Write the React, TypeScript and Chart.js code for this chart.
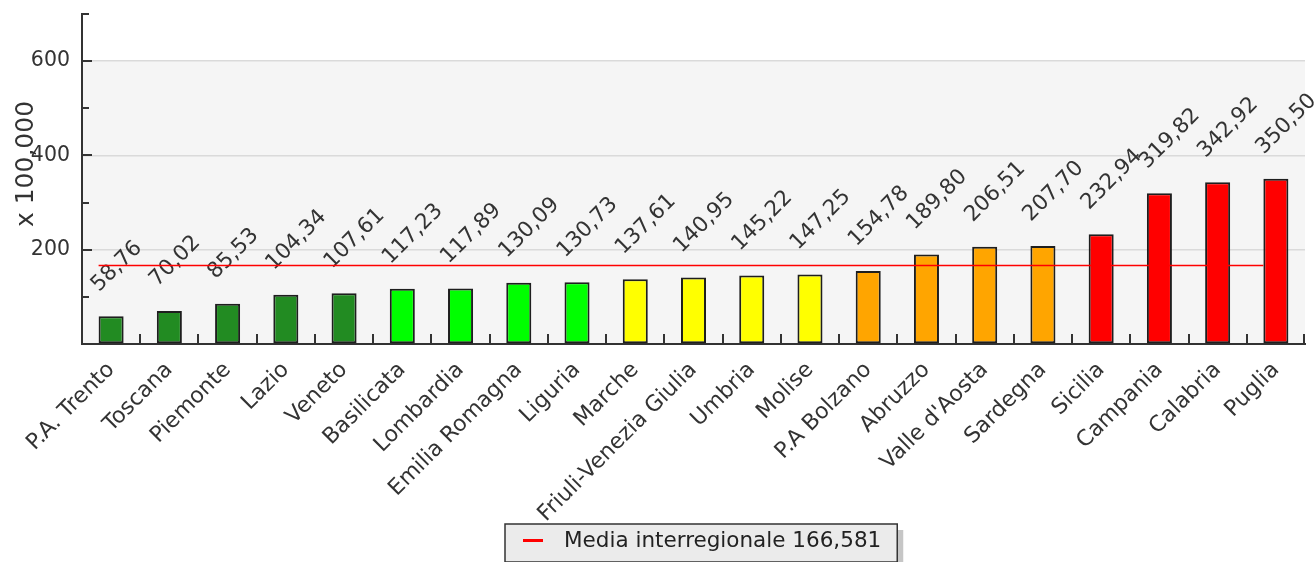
import React, { useEffect, useRef } from 'react';
import { Chart, registerables } from 'chart.js';

Chart.register(...registerables);

const CATEGORIES = [
  'P.A. Trento', 'Toscana', 'Piemonte', 'Lazio', 'Veneto',
  'Basilicata', 'Lombardia', 'Emilia Romagna', 'Liguria',
  'Marche', 'Friuli-Venezia Giulia', 'Umbria', 'Molise',
  'P.A Bolzano', 'Abruzzo', "Valle d'Aosta", 'Sardegna',
  'Sicilia', 'Campania', 'Calabria', 'Puglia',
];

const VALUES = [
  58.76, 70.02, 85.53, 104.34, 107.61,
  117.23, 117.89, 130.09, 130.73,
  137.61, 140.95, 145.22, 147.25,
  154.78, 189.80, 206.51, 207.70,
  232.94, 319.82, 342.92, 350.50,
];

const BAR_COLORS = [
  '#228b22', '#228b22', '#228b22', '#228b22', '#228b22',
  '#00ff00', '#00ff00', '#00ff00', '#00ff00',
  '#ffff00', '#ffff00', '#ffff00', '#ffff00',
  '#ffa500', '#ffa500', '#ffa500', '#ffa500',
  '#ff0000', '#ff0000', '#ff0000', '#ff0000',
];

const MEAN = 166.581;
const MEAN_LABEL = 'Media interregionale ' + String(MEAN).replace('.', ',');
const Y_TITLE = 'x 100,000';
const Y_MAX = 700;
const Y_STEP = 100;
const Y_LABELED = [200, 400, 600];
const BG_TOP_VALUE = 600;

const FONT_FAMILY = 'DejaVu Sans';
const TEXT_COLOR = '#333333';

const fmt = (v: number) => v.toFixed(2).replace('.', ',');

const decorPlugin = {
  id: 'decor',
  beforeDraw(chart: any) {
    const { ctx, chartArea: ca, scales } = chart;
    ctx.save();
    ctx.fillStyle = '#ffffff';
    ctx.fillRect(0, 0, chart.width, chart.height);
    const top = scales.y.getPixelForValue(BG_TOP_VALUE);
    ctx.fillStyle = '#f5f5f5';
    ctx.fillRect(ca.left, top, ca.right - ca.left, ca.bottom - top);
    ctx.restore();
  },
  beforeDatasetDraw(chart: any, args: any) {
    if (args.index === 1) {
      const bars = chart.getDatasetMeta(0).data;
      const half = bars.length ? bars[0].width / 2 : 0;
      chart.ctx.save();
      chart.ctx.translate(-half, 0);
    }
  },
  afterDatasetDraw(chart: any, args: any) {
    const ctx = chart.ctx;
    if (args.index === 1) {
      ctx.restore();
      return;
    }
    if (args.index === 0) {
      ctx.save();
      ctx.font = `21.5px "${FONT_FAMILY}"`;
      ctx.fillStyle = TEXT_COLOR;
      ctx.textAlign = 'left';
      ctx.textBaseline = 'middle';
      args.meta.data.forEach((el: any, i: number) => {
        ctx.save();
        ctx.translate(el.x - 16, el.y - 28);
        ctx.rotate(-Math.PI / 4);
        ctx.fillText(fmt(VALUES[i]), 0, 0);
        ctx.restore();
      });
      ctx.restore();
    }
  },
  afterDraw(chart: any) {
    const { ctx, chartArea: ca, scales } = chart;
    const xs = scales.x;
    const ys = scales.y;
    ctx.save();
    // tick marks (inward)
    ctx.strokeStyle = '#333333';
    ctx.lineWidth = 2;
    const n = CATEGORIES.length;
    for (let i = 1; i <= n; i++) {
      const px = i < n
        ? Math.round((xs.getPixelForValue(i - 1) + xs.getPixelForValue(i)) / 2)
        : ca.right - 1;
      ctx.beginPath();
      ctx.moveTo(px, ca.bottom);
      ctx.lineTo(px, ca.bottom - 10);
      ctx.stroke();
    }
    for (let v = Y_STEP; v <= Y_MAX; v += Y_STEP) {
      const py = Math.round(ys.getPixelForValue(v));
      const len = Y_LABELED.includes(v) ? 10 : 7;
      ctx.beginPath();
      ctx.moveTo(ca.left, py);
      ctx.lineTo(ca.left + len, py);
      ctx.stroke();
    }
    // y title
    ctx.save();
    ctx.font = `25px "${FONT_FAMILY}"`;
    ctx.fillStyle = TEXT_COLOR;
    ctx.textAlign = 'center';
    ctx.textBaseline = 'alphabetic';
    ctx.translate(ca.left - 49, (ca.top + ca.bottom) / 2 - 15);
    ctx.rotate(-Math.PI / 2);
    ctx.fillText(Y_TITLE, 0, 0);
    ctx.restore();
    // legend box
    ctx.font = `21.5px "${FONT_FAMILY}"`;
    const tw = ctx.measureText(MEAN_LABEL).width;
    const bw = 18 + 20 + 21 + tw + 16;
    const bh = 38;
    const bx = Math.round((ca.left + ca.right) / 2 - bw / 2 + 8);
    const by = 524;
    ctx.fillStyle = '#c6c6c6';
    ctx.fillRect(bx + bw, by + 6, 6, bh);
    ctx.fillStyle = '#ebebeb';
    ctx.fillRect(bx, by, bw, bh);
    ctx.strokeStyle = '#333333';
    ctx.lineWidth = 1.5;
    ctx.strokeRect(bx, by, bw, bh);
    ctx.fillStyle = '#ff0000';
    ctx.fillRect(bx + 18, by + 15, 20, 3);
    ctx.fillStyle = '#222222';
    ctx.textAlign = 'left';
    ctx.textBaseline = 'middle';
    ctx.fillText(MEAN_LABEL, bx + 59, by + 17);
    ctx.restore();
  },
};

export default function App() {
  const ref = useRef<HTMLCanvasElement>(null);
  useEffect(() => {
    if (!ref.current) return;
    const chart = new Chart(ref.current, {
      type: 'bar',
      data: {
        labels: CATEGORIES,
        datasets: [
          {
            type: 'bar',
            label: 'valori',
            data: VALUES,
            backgroundColor: BAR_COLORS,
            borderColor: '#1e1e1e',
            borderWidth: 2,
            borderSkipped: false,
            barPercentage: 0.43,
            categoryPercentage: 1,
            order: 2,
          } as any,
          {
            type: 'line',
            label: MEAN_LABEL,
            data: [
              { x: CATEGORIES[0], y: MEAN },
              { x: CATEGORIES[CATEGORIES.length - 1], y: MEAN },
            ],
            borderColor: '#ff0000',
            borderWidth: 1.5,
            pointRadius: 0,
            fill: false,
            order: 1,
          } as any,
        ],
      },
      options: {
        responsive: false,
        animation: false,
        layout: { padding: { top: 14, right: 9, left: 0, bottom: 0 } },
        plugins: {
          legend: { display: false },
          tooltip: { enabled: false },
          title: { display: false },
        },
        scales: {
          x: {
            type: 'category',
            offset: true,
            grid: { display: false, drawTicks: false },
            border: { display: true, color: '#333333', width: 2 },
            ticks: {
              autoSkip: false,
              maxRotation: 45,
              minRotation: 45,
              padding: 13,
              color: TEXT_COLOR,
              font: { family: FONT_FAMILY, size: 22 },
            },
            afterFit: (s: any) => { s.height = 218; },
          },
          y: {
            min: 0,
            max: Y_MAX,
            grid: {
              color: (c: any) => (c.tick && Y_LABELED.includes(c.tick.value) ? '#dadada' : 'rgba(0,0,0,0)'),
              lineWidth: 1.5,
              drawTicks: false,
            },
            border: { display: true, color: '#333333', width: 2 },
            ticks: {
              stepSize: Y_STEP,
              padding: 12,
              color: TEXT_COLOR,
              font: { family: FONT_FAMILY, size: 20.5 },
              callback: (v: any) => (Y_LABELED.includes(Number(v)) ? String(v) : ''),
            },
            afterFit: (s: any) => {
              s.width = 82;
              s.paddingTop = 0;
              s.paddingBottom = 0;
            },
          },
        },
      } as any,
      plugins: [decorPlugin],
    });
    return () => chart.destroy();
  }, []);
  return (
    <div style={{ position: 'fixed', left: 0, top: 0, width: 1314, height: 562, background: '#fff' }}>
      <canvas ref={ref} width={1314} height={562} style={{ width: 1314, height: 562, display: 'block' }} />
    </div>
  );
}
